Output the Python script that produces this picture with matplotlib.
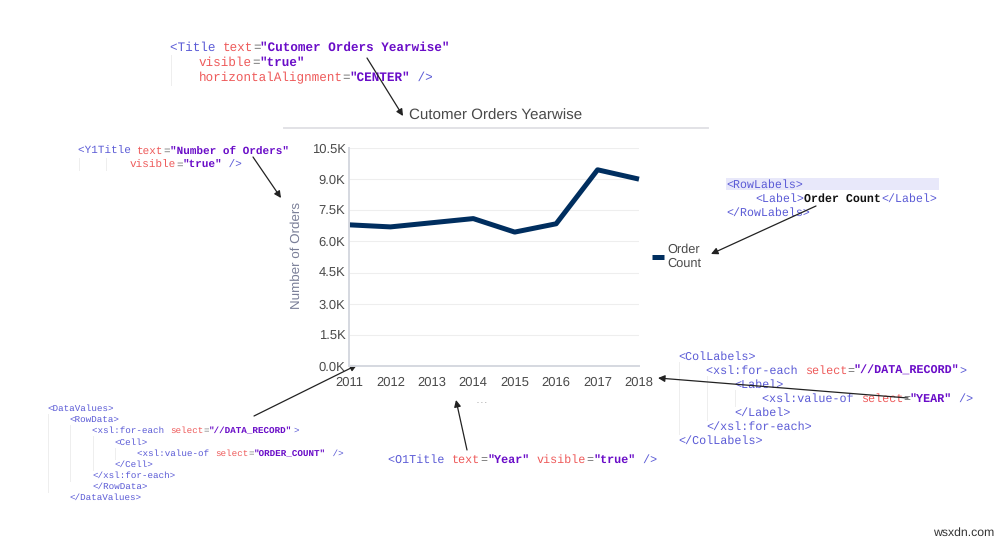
import matplotlib
matplotlib.use('Agg')
import matplotlib.pyplot as plt
from matplotlib.patches import Rectangle

years = [2011, 2012, 2013, 2014, 2015, 2016, 2017, 2018]
order_count = [6800, 6700, 6900, 7100, 6450, 6850, 9450, 9000]
y_ticks = [0, 1500, 3000, 4500, 6000, 7500, 9000, 10500]
y_tick_labels = ['0.0K', '1.5K', '3.0K', '4.5K', '6.0K', '7.5K', '9.0K', '10.5K']

W, H = 1006, 543
TAG = '#5b5bd6'
ATTR = '#ee5a5a'
VAL = '#6a0dc8'
EQ = '#777777'
BLACK = '#111111'
SANS = 'Liberation Sans'
MONO = 'Liberation Mono'

plt.rcParams['text.hinting'] = 'no_hinting'


def t(text):
    return (text, TAG, False)

def a(text):
    return (text, ATTR, False)

def e(text='='):
    return (text, EQ, False)

def v(text):
    return (text, VAL, True)


title_block = [
    (170, 47, [t('<Title '), a('text'), e(), v('"Cutomer Orders Yearwise"')]),
    (199, 62, [a('visible'), e(), v('"true"')]),
    (199, 77, [a('horizontalAlignment'), e(), v('"CENTER"'), t(' />')]),
]
y1_block = [
    (78, 151, [t('<Y1Title '), a('text'), e(), v('"Number of Orders"')]),
    (130, 165, [a('visible'), e(), v('"true"'), t(' />')]),
]
row_block = [
    (726, 184, [t('<RowLabels>')]),
    (755, 198, [t('<Label>'), ('Order Count', BLACK, True), t('</Label>')]),
    (726, 212, [t('</RowLabels>')]),
]
col_block = [
    (678, 356, [t('<ColLabels>')]),
    (706, 370, [t('<xsl:for-each '), a('select'), e(), v('"//DATA_RECORD"'), t('>')]),
    (734, 384, [t('<Label>')]),
    (762, 398, [t('<xsl:value-of '), a('select'), e(), v('"YEAR"'), t(' />')]),
    (734, 412, [t('</Label>')]),
    (706, 426, [t('</xsl:for-each>')]),
    (678, 440, [t('</ColLabels>')]),
]
o1_block = [
    (388, 459, [t('<O1Title '), a('text'), e(), v('"Year"'), t(' '), a('visible'), e(), v('"true"'), t(' />')]),
]
data_block = [
    (47, 408, [t('<DataValues>')]),
    (69, 419, [t('<RowData>')]),
    (92, 430, [t('<xsl:for-each '), a('select'), e(), v('"//DATA_RECORD"'), t('>')]),
    (114, 442, [t('<Cell>')]),
    (137, 453, [t('<xsl:value-of '), a('select'), e(), v('"ORDER_COUNT"'), t(' />')]),
    (114, 464, [t('</Cell>')]),
    (92, 475, [t('</xsl:for-each>')]),
    (92, 486, [t('</RowData>')]),
    (69, 497, [t('</DataValues>')]),
]

fig = plt.figure(figsize=(W / 100, H / 100), dpi=100)

# overlay in pixel coordinates for the code snippets and callouts
ov = fig.add_axes([0, 0, 1, 1])
ov.set_xlim(0, W)
ov.set_ylim(H, 0)
ov.axis('off')

# the chart itself
ax = fig.add_axes([349 / W, 1 - 366 / H, (639 - 349) / W, (366 - 148) / H])
ax.patch.set_alpha(0)
ax.plot(years, order_count, color='#002e5f', lw=3.6, clip_on=False,
        solid_joinstyle='round', solid_capstyle='butt')
ax.set_xlim(2011, 2018)
ax.set_ylim(0, 10500)
ax.set_xticks(years)
ax.set_yticks(y_ticks)
ax.set_yticklabels(y_tick_labels)
ax.grid(axis='y', color='#eeeeee', lw=0.8)
ax.set_axisbelow(True)
for s in ['top', 'right']:
    ax.spines[s].set_visible(False)
for s in ['left', 'bottom']:
    ax.spines[s].set_color('#d5d8e0')
    ax.spines[s].set_linewidth(1.4)
ax.tick_params(length=0, labelsize=9.4, labelcolor='#4a4a4a')
ax.tick_params(axis='x', pad=7.5)
ax.tick_params(axis='y', pad=2.5)
for lab in ax.get_xticklabels() + ax.get_yticklabels():
    lab.set_family(SANS)


def draw_code(block, size):
    # monospaced, so each run starts a fixed number of characters along
    cw = 0.6 * size * 100 / 72
    for x, y, runs in block:
        n = 0
        for text, color, bold in runs:
            ov.text(x + n * cw, y + 0.5, text, family=MONO, fontsize=size, color=color,
                    fontweight='bold' if bold else 'normal', va='center', ha='left')
            n += len(text)


ov.add_patch(Rectangle((726, 178), 213, 12, color='#e8e8fa', lw=0))
draw_code(title_block, 9.05)
draw_code(y1_block, 7.9)
draw_code(row_block, 8.4)
draw_code(col_block, 8.45)
draw_code(o1_block, 8.5)
draw_code(data_block, 6.7)

# guides beside the snippets
guides = [(170, 55, 85), (78, 158, 170), (105, 158, 170), (678, 362, 434), (706, 376, 420), (734, 390, 406),
          (47, 414, 492), (69, 425, 481), (92, 436, 470), (114, 448, 459)]
for gx, y0, y1 in guides:
    ov.plot([gx + 1, gx + 1], [y0, y1], color='#eeeeee', lw=0.7)

ov.text(496, 115.5, 'Cutomer Orders Yearwise', family=SANS, fontsize=10.9, color='#4a4a4a', ha='center', va='center')
ov.plot([284, 708], [128, 128], color='#e2e2e6', lw=1.4)
ov.text(297, 255, 'Number of Orders', family=SANS, fontsize=9.6, color='#7a7f98', rotation=90, ha='center', va='center')
ov.plot([652, 664], [257, 257], color='#002e5f', lw=3.6, solid_capstyle='butt')
ov.text(667, 249.5, 'Order', family=SANS, fontsize=9.2, color='#4a4a4a', va='center')
ov.text(667, 263.5, 'Count', family=SANS, fontsize=9.2, color='#4a4a4a', va='center')
ov.text(964, 533, 'wsxdn.com', family=SANS, fontsize=8.8, color='#333333', ha='center', va='center')
ov.plot([477, 479, 484, 486], [402, 402, 402, 402], color='#aaaaaa', lw=0.7, ls=(0, (1, 3)))

arrows = [((367, 58), (403, 116)), ((253, 157), (281, 198)), ((816, 206), (711, 254)),
          ((908, 398), (658, 378)), ((254, 416), (357, 365)), ((467, 450), (456, 400))]
for start, end in arrows:
    ov.annotate('', xy=end, xytext=start,
                arrowprops=dict(arrowstyle='-|>', color='#222222', lw=0.9, mutation_scale=10,
                                shrinkA=0, shrinkB=0))

fig.savefig('out.png', dpi=100)
